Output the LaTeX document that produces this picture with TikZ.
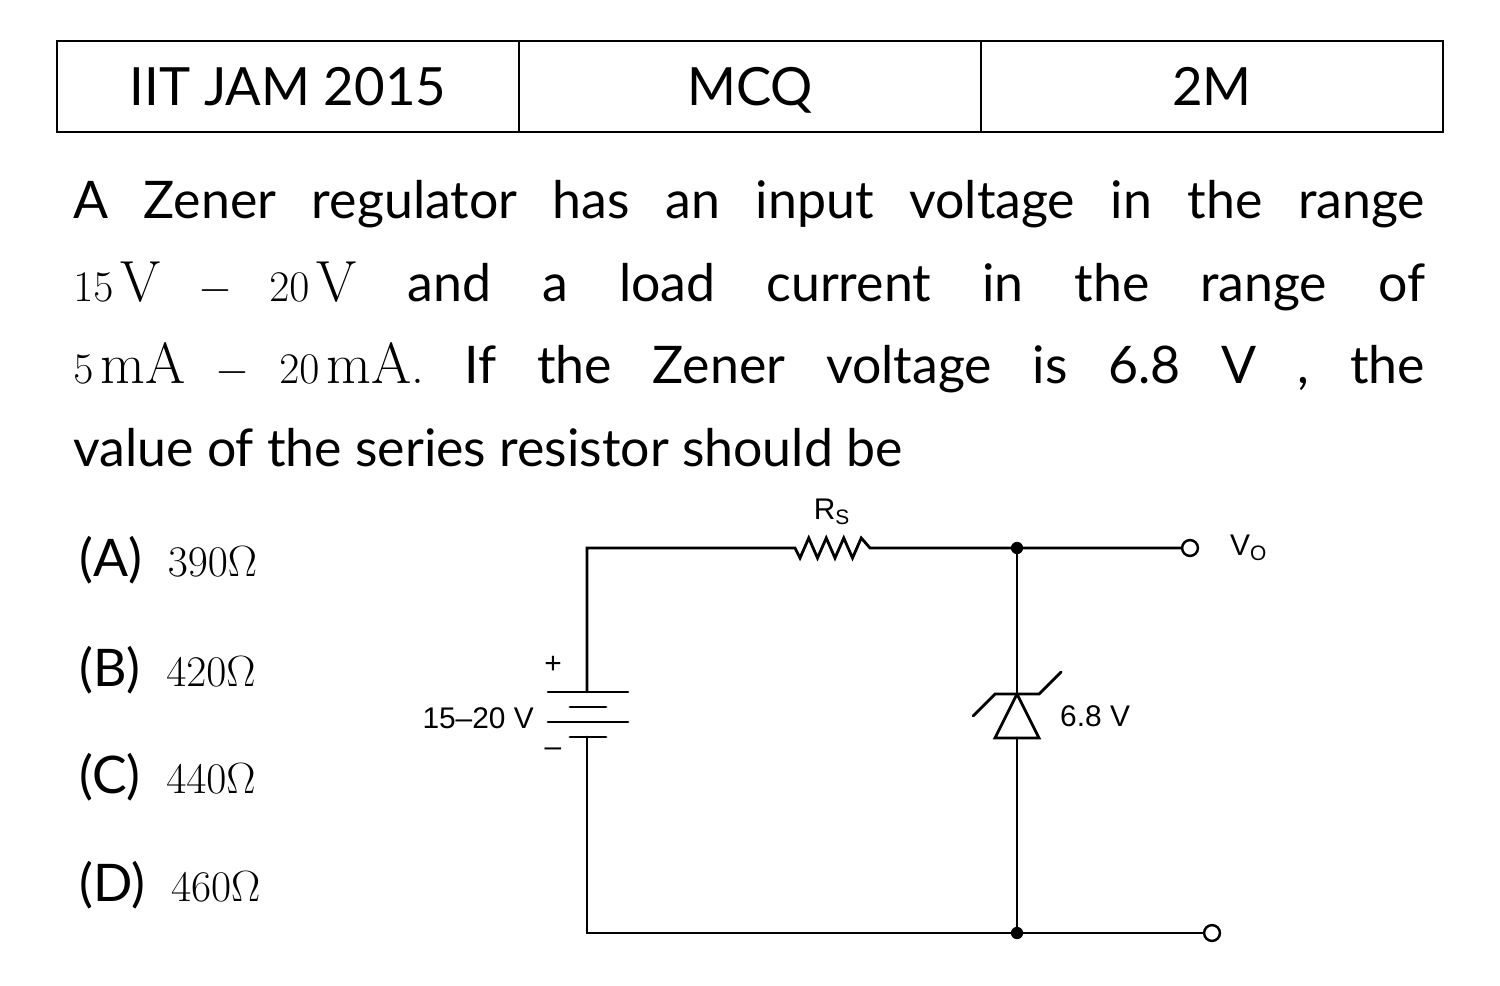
\documentclass[tikz,border=0pt]{standalone}
\usepackage{fontspec}
\setmainfont{Lato}
\setmathrm{Latin Modern Roman}
\newfontfamily\cktfont{Liberation Sans}
\newcommand{\mth}[1]{{\fontsize{33}{47}\selectfont$#1$}}
\begin{document}
\begin{tikzpicture}[x=0.02cm,y=-0.02cm,line cap=round,
  w/.style={line width=1.6pt},
  tb/.style={line width=1.3pt},
  ck/.style={font=\cktfont\fontsize{17}{19}\selectfont},
  body/.style={font=\fontsize{29.5}{47}\selectfont},
  hd/.style={font=\fontsize{30}{34}\selectfont,anchor=base},
  dot/.style={circle,fill,inner sep=0pt,minimum size=7pt},
  term/.style={circle,draw,line width=1.4pt,fill=white,inner sep=0pt,minimum size=9pt}]
\useasboundingbox (0,0) rectangle (1500,986);
% table
\draw[tb] (57,41) rectangle (1443,132);
\draw[tb] (519,41) -- (519,132) (981,41) -- (981,132);
\node[hd] (t1) at (288,106) {IIT JAM 2015};
\node[hd] (t2) at (750,106) {MCQ};
\node[hd] (t3) at (1212,106) {2M};
% question
\node[body,anchor=north west,text width=27.04cm,align=justify,inner sep=0pt] (q) at (73,180)
{A Zener regulator has an input voltage in the range\linebreak \mth{15\,\mathrm{V}-20\,\mathrm{V}} and a load current in the range of\linebreak \mth{5\,\mathrm{mA}-20\,\mathrm{mA}.} If the Zener voltage is 6.8 V , the\linebreak value of the series resistor should be\par};
\node[body,anchor=west] (oa) at (73,560) {(A)\enspace\mth{390\Omega}};
\node[body,anchor=west] (ob) at (73,670) {(B)\enspace\mth{420\Omega}};
\node[body,anchor=west] (oc) at (73,777) {(C)\enspace\mth{440\Omega}};
\node[body,anchor=west] (od) at (73,885) {(D)\enspace\mth{460\Omega}};
% circuit
\coordinate (tl) at (587,548);
\coordinate (bl) at (587,933);
\coordinate (r1) at (795,548);
\coordinate (r2) at (870,548);
\node[dot] (nt) at (1017,548) {};
\node[dot] (nb) at (1017,933) {};
\node[term] (vo) at (1190,548) {};
\node[term] (gb) at (1212,933) {};
\coordinate (bp) at (587,692);
\coordinate (bn) at (587,737);
\coordinate (zk) at (1017,694);
\coordinate (za) at (1017,738);
\draw[w] (bp) -- (tl) -- (r1)
  -- ++(5,10) -- ++(8.75,-20) -- ++(8.75,20) -- ++(8.75,-20) -- ++(8.75,20) -- ++(8.75,-20) -- ++(8.75,20) -- ++(8.75,-20) -- (r2)
  -- (nt) -- (vo);
\draw[w] (bn) -- (bl) -- (nb) -- (gb);
\draw[w] (nt) -- (zk) (za) -- (nb);
% battery
\draw[w] (548,692) -- (628,692) (570,707) -- (606,707) (548,722) -- (628,722) (570,737) -- (606,737);
\node[ck] (plus) at (553,665) {+};
\node[ck] (minus) at (553,752) {\textendash};
\node[ck,anchor=east] (vin) at (540,718) {15\textendash20 V};
% zener
\draw[w,line join=miter] (995,738) -- (1039,738) -- (zk) -- cycle;
\draw[w] (973,716) -- (995,694) -- (1039,694) -- (1061,672);
\node[ck,anchor=west] (zl) at (1054,716) {6.8 V};
\node[ck] (rs) at (832,512) {R\textsubscript{S}};
\node[ck,anchor=west] (vol) at (1224,548) {V\textsubscript{O}};
\end{tikzpicture}
\end{document}
